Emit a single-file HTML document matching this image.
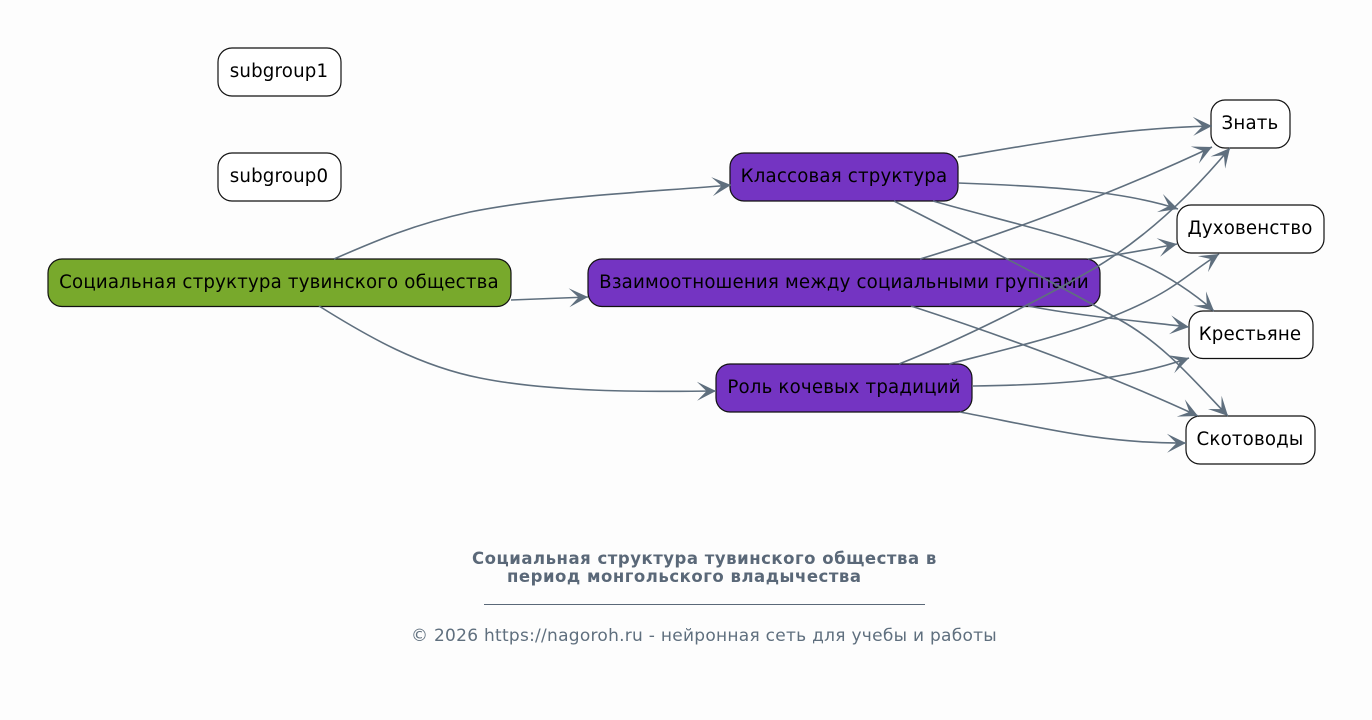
<!DOCTYPE html>
<html lang="ru"><head><meta charset="utf-8"><title>Социальная структура</title>
<style>
html,body{margin:0;padding:0;background:#fdfdfd}
svg{display:block}
text{font-family:"DejaVu Sans","Liberation Sans","Noto Sans CJK SC",sans-serif}
.n{font-size:18.2px;letter-spacing:.18px;fill:#000;text-anchor:middle}
.w{fill:#fff;stroke:#111;stroke-width:1.2}
.p{fill:#7434c2;stroke:#111;stroke-width:1.2}
.e path{fill:none;stroke:#5f6f7e;stroke-width:1.6;marker-end:url(#a)}
</style></head><body>
<svg width="1372" height="720" viewBox="0 0 1372 720" xmlns="http://www.w3.org/2000/svg">
<defs><marker id="a" markerUnits="userSpaceOnUse" markerWidth="24" markerHeight="24" refX="20" refY="12" orient="auto" viewBox="0 0 24 24" overflow="visible"><path d="M1,2.5 L20,12 L1,21.5 L10.5,12 Z" fill="#5f6f7e"/></marker></defs>
<rect x="218" y="48" width="123" height="48" rx="14" class="w"/>
<rect x="218" y="153" width="123" height="48" rx="14" class="w"/>
<rect x="48" y="259" width="463" height="47.5" rx="14" fill="#78a92c" stroke="#111" stroke-width="1.2"/>
<rect x="730" y="153" width="228" height="48" rx="14" class="p"/>
<rect x="588" y="259" width="512" height="47.5" rx="14" class="p"/>
<rect x="716" y="364" width="256" height="48" rx="14" class="p"/>
<rect x="1211" y="100" width="79" height="48" rx="14" class="w"/>
<rect x="1177" y="205" width="147" height="48" rx="14" class="w"/>
<rect x="1189" y="311" width="124" height="47.5" rx="14" class="w"/>
<rect x="1186" y="416" width="129" height="48" rx="14" class="w"/>
<text class="n" x="279" y="77">subgroup1</text>
<text class="n" x="279" y="182">subgroup0</text>
<text class="n" x="279" y="288">Социальная структура тувинского общества</text>
<text class="n" x="844" y="182">Классовая структура</text>
<text class="n" x="844" y="288">Взаимоотношения между социальными группами</text>
<text class="n" x="844" y="393">Роль кочевых традиций</text>
<text class="n" x="1250" y="129">Знать</text>
<text class="n" x="1250" y="234">Духовенство</text>
<text class="n" x="1250" y="340">Крестьяне</text>
<text class="n" x="1250" y="445">Скотоводы</text>
<g class="e">
<path d="M334,259 C375,241 415,224 470,212 C550,196 650,192 731,185"/>
<path d="M511,300 L588,297"/>
<path d="M319,306 C370,338 420,366 480,378 C550,392 640,392 716,391"/>
<path d="M958,157 C1040,143 1120,128 1212,126"/>
<path d="M958,183 C1040,186 1120,190 1178,209"/>
<path d="M933,201 C1000,220 1070,236 1120,255 C1160,270 1190,290 1214,311"/>
<path d="M894,201 C960,235 1060,285 1120,320 C1165,345 1195,382 1228,416"/>
<path d="M920,259 C1000,235 1110,195 1212,147"/>
<path d="M1088,259 C1120,255 1150,249 1177,244"/>
<path d="M1028,306 C1080,316 1130,320 1189,327"/>
<path d="M911,306 C1000,335 1110,375 1198,416"/>
<path d="M899,364 C960,340 1040,300 1095,268 C1150,235 1195,190 1230,148"/>
<path d="M949,364 C1030,343 1110,325 1167,290 C1185,279 1200,266 1219,254"/>
<path d="M973,386 C1050,385 1120,382 1189,358"/>
<path d="M960,412 C1030,425 1100,444 1186,443"/>
</g>
<text x="472" y="564" font-size="16.5" letter-spacing=".52" font-weight="700" fill="#5a6878">Социальная структура тувинского общества в</text>
<text x="507" y="582" font-size="16.5" letter-spacing=".52" font-weight="700" fill="#5a6878">период монгольского владычества</text>
<rect x="484" y="604" width="441" height="1" fill="#5a6878"/>
<text x="411" y="641" font-size="17" letter-spacing=".27" fill="#5f6f7e">© 2026 https://nagoroh.ru - нейронная сеть для учебы и работы</text>
</svg>
</body></html>
